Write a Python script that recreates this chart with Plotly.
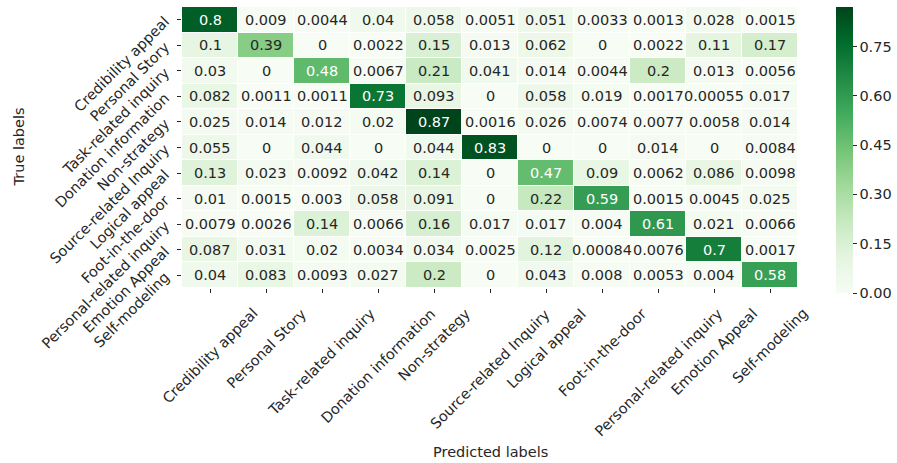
import plotly.graph_objects as go

# Strategy classes (rows = true, columns = predicted)
labels = [
    "Credibility appeal", "Personal Story", "Task-related inquiry",
    "Donation information", "Non-strategy", "Source-related Inquiry",
    "Logical appeal", "Foot-in-the-door", "Personal-related inquiry",
    "Emotion Appeal", "Self-modeling",
]

# Normalised confusion matrix, one list per true label
row_credibility = [0.8, 0.009, 0.0044, 0.04, 0.058, 0.0051, 0.051, 0.0033, 0.0013, 0.028, 0.0015]
row_personal_story = [0.1, 0.39, 0, 0.0022, 0.15, 0.013, 0.062, 0, 0.0022, 0.11, 0.17]
row_task = [0.03, 0, 0.48, 0.0067, 0.21, 0.041, 0.014, 0.0044, 0.2, 0.013, 0.0056]
row_donation = [0.082, 0.0011, 0.0011, 0.73, 0.093, 0, 0.058, 0.019, 0.0017, 0.00055, 0.017]
row_non_strategy = [0.025, 0.014, 0.012, 0.02, 0.87, 0.0016, 0.026, 0.0074, 0.0077, 0.0058, 0.014]
row_source = [0.055, 0, 0.044, 0, 0.044, 0.83, 0, 0, 0.014, 0, 0.0084]
row_logical = [0.13, 0.023, 0.0092, 0.042, 0.14, 0, 0.47, 0.09, 0.0062, 0.086, 0.0098]
row_foot = [0.01, 0.0015, 0.003, 0.058, 0.091, 0, 0.22, 0.59, 0.0015, 0.0045, 0.025]
row_personal_inquiry = [0.0079, 0.0026, 0.14, 0.0066, 0.16, 0.017, 0.017, 0.004, 0.61, 0.021, 0.0066]
row_emotion = [0.087, 0.031, 0.02, 0.0034, 0.034, 0.0025, 0.12, 0.00084, 0.0076, 0.7, 0.0017]
row_self_modeling = [0.04, 0.083, 0.0093, 0.027, 0.2, 0, 0.043, 0.008, 0.0053, 0.004, 0.58]

matrix = [
    row_credibility, row_personal_story, row_task, row_donation, row_non_strategy,
    row_source, row_logical, row_foot, row_personal_inquiry, row_emotion, row_self_modeling,
]

colorbar_ticks = [0.0, 0.15, 0.30, 0.45, 0.60, 0.75]

# matplotlib "Greens" anchor colours
greens = ["#f7fcf5", "#e5f5e0", "#c7e9c0", "#a1d99b", "#74c476",
          "#41ab5d", "#238b45", "#006d2c", "#00441b"]
colorscale = [[i / (len(greens) - 1), c] for i, c in enumerate(greens)]

zmin = 0.0
zmax = max(max(r) for r in matrix)

FONT = "DejaVu Sans"
DARK = "#262626"
FS = 14.5


def hex_rgb(h):
    h = h.lstrip("#")
    return [int(h[i:i + 2], 16) for i in (0, 2, 4)]


def cmap(t):
    t = min(max(t, 0.0), 1.0)
    pos = t * (len(greens) - 1)
    i = min(int(pos), len(greens) - 2)
    f = pos - i
    a, b = hex_rgb(greens[i]), hex_rgb(greens[i + 1])
    return [a[k] + (b[k] - a[k]) * f for k in range(3)]


def luminance(rgb):
    out = []
    for c in rgb:
        c = c / 255.0
        out.append(c / 12.92 if c <= 0.03928 else ((c + 0.055) / 1.055) ** 2.4)
    return 0.2126 * out[0] + 0.7152 * out[1] + 0.0722 * out[2]


fig = go.Figure(
    go.Heatmap(
        z=matrix,
        x=labels,
        y=labels,
        zmin=zmin,
        zmax=zmax,
        colorscale=colorscale,
        xgap=1,
        ygap=1,
        hoverongaps=False,
        colorbar=dict(
            thickness=17,
            len=286,
            lenmode="pixels",
            x=1.062,
            xanchor="left",
            xpad=0,
            y=1,
            yanchor="top",
            ypad=0,
            outlinewidth=0,
            tickvals=colorbar_ticks,
            tickformat=".2f",
            ticks="outside",
            ticklen=4,
            tickcolor=DARK,
            tickfont=dict(family=FONT, size=FS, color=DARK),
        ),
    )
)

# cell annotations, text colour chosen from the background luminance
annotations = []
for i, row in enumerate(matrix):
    for j, v in enumerate(row):
        bg = cmap((v - zmin) / (zmax - zmin))
        color = DARK if luminance(bg) > 0.408 else "white"
        annotations.append(dict(
            x=labels[j], y=labels[i], xref="x", yref="y",
            text="{:.2g}".format(v), showarrow=False,
            font=dict(family=FONT, size=FS, color=color),
        ))

# rotated column labels, centred under each tick
for lab in labels:
    annotations.append(dict(
        x=lab, y=0, xref="x", yref="paper", yshift=-15,
        text=lab, showarrow=False, textangle=-45,
        xanchor="center", yanchor="top",
        font=dict(family=FONT, size=FS, color=DARK),
    ))

annotations.append(dict(
    x=0.5, y=0, xref="paper", yref="paper", yshift=-164,
    text="Predicted labels", showarrow=False, xanchor="center", yanchor="middle",
    font=dict(family=FONT, size=FS, color=DARK),
))
annotations.append(dict(
    x=0, y=0.5, xref="paper", yref="paper", xshift=-164,
    text="True labels", showarrow=False, xanchor="center", yanchor="middle",
    textangle=-90,
    font=dict(family=FONT, size=FS, color=DARK),
))

n = len(labels)

fig.update_layout(
    width=897,
    height=463,
    margin=dict(l=182, r=99, t=7, b=175, autoexpand=False),
    paper_bgcolor="white",
    plot_bgcolor="white",
    annotations=annotations,
    font=dict(family=FONT, size=FS, color=DARK),
    xaxis=dict(
        automargin=False,
        range=[-0.5, n - 0.5],
        autorange=False,
        showticklabels=False,
        ticks="outside",
        ticklen=4,
        tickcolor=DARK,
        showgrid=False,
        zeroline=False,
        showline=False,
    ),
    yaxis=dict(
        automargin=False,
        range=[n - 0.5, -0.5],
        autorange=False,
        tickangle=-45,
        ticks="outside",
        ticklen=4,
        tickcolor=DARK,
        ticklabelstandoff=9,
        showgrid=False,
        zeroline=False,
        showline=False,
        tickfont=dict(family=FONT, size=FS, color=DARK),
    ),
)

fig.write_html("out.html")
